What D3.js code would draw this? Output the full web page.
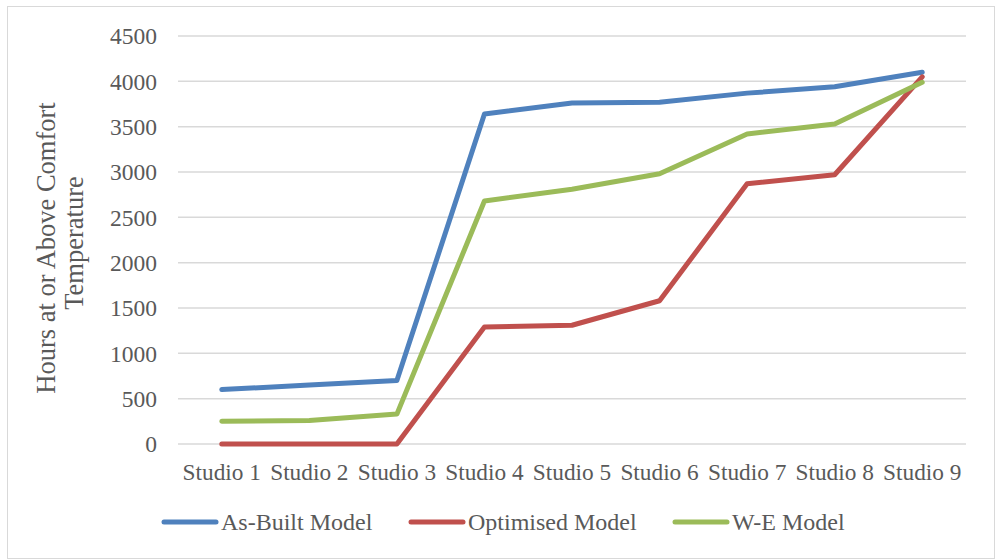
<!DOCTYPE html>
<html>
<head>
<meta charset="utf-8">
<script src="https://cdn.jsdelivr.net/npm/d3@7/dist/d3.min.js"></script>
<style>
  html, body { margin: 0; padding: 0; background: #fff; }
  svg { display: block; }
  text { font-family: "Liberation Serif", "Times New Roman", serif; fill: #595959; }
</style>
</head>
<body>
<svg id="chart" width="996" height="560"></svg>
<script>
// Studios along the category axis
const categories = ["Studio 1", "Studio 2", "Studio 3", "Studio 4", "Studio 5",
                    "Studio 6", "Studio 7", "Studio 8", "Studio 9"];
// Hours at or above comfort temperature per model
const asBuilt   = [600, 650, 700, 3640, 3760, 3770, 3870, 3940, 4100];
const optimised = [0, 0, 0, 1290, 1310, 1580, 2870, 2970, 4050];
const weModel   = [250, 260, 330, 2680, 2810, 2980, 3420, 3530, 3990];
const yTicks    = [0, 500, 1000, 1500, 2000, 2500, 3000, 3500, 4000, 4500];
const seriesNames = ["As-Built Model", "Optimised Model", "W-E Model"];

const series = [
  { name: seriesNames[0], values: asBuilt,   color: "#4F81BD" },
  { name: seriesNames[1], values: optimised, color: "#C0504D" },
  { name: seriesNames[2], values: weModel,   color: "#9BBB59" }
];

const FONT = "Liberation Serif, Times New Roman, serif";
const svg = d3.select("#chart");

// outer chart frame
svg.append("rect")
  .attr("x", 7.5).attr("y", 6.5).attr("width", 987).attr("height", 552)
  .attr("fill", "#fff").attr("stroke", "#D9D9D9").attr("stroke-width", 1);

const plot = { left: 178, right: 966, top: 36, bottom: 444 };

const x = d3.scaleBand().domain(categories).range([plot.left, plot.right]);
const y = d3.scaleLinear().domain([0, 4500]).range([plot.bottom, plot.top]);

// horizontal gridlines
svg.append("g")
  .selectAll("line")
  .data(yTicks)
  .join("line")
  .attr("x1", plot.left).attr("x2", plot.right)
  .attr("y1", d => y(d)).attr("y2", d => y(d))
  .attr("stroke", "#D9D9D9").attr("stroke-width", 1.5);

// value axis labels
const yAxis = d3.axisLeft(y).tickValues(yTicks).tickSize(0).tickPadding(0)
  .tickFormat(d3.format("d"));
const yg = svg.append("g").attr("transform", `translate(${plot.left - 21},0)`).call(yAxis);
yg.select(".domain").remove();
yg.selectAll("text")
  .attr("font-size", 23.5).attr("fill", "#595959")
  .attr("font-family", FONT)
  .attr("dy", "0.33em");

// category axis labels
const xAxis = d3.axisBottom(x).tickSize(0).tickPadding(0);
const xg = svg.append("g").attr("transform", `translate(0,${plot.bottom})`).call(xAxis);
xg.select(".domain").remove();
xg.selectAll("text")
  .attr("font-size", 23.3).attr("fill", "#595959")
  .attr("font-family", FONT)
  .attr("y", 36).attr("dy", 0);

// value axis title, two lines
const titleLines = [
  { text: "Hours at or Above Comfort", x: 55, cy: 248 },
  { text: "Temperature", x: 83, cy: 243 }
];
svg.append("g")
  .selectAll("text")
  .data(titleLines)
  .join("text")
  .attr("transform", d => `translate(${d.x},${d.cy}) rotate(-90)`)
  .attr("text-anchor", "middle")
  .attr("font-size", 26.5)
  .text(d => d.text);

// series lines
const line = d3.line()
  .x((d, i) => x(categories[i]) + x.bandwidth() / 2)
  .y(d => y(d));

svg.append("g")
  .selectAll("path")
  .data(series)
  .join("path")
  .attr("d", d => line(d.values))
  .attr("fill", "none")
  .attr("stroke", d => d.color)
  .attr("stroke-width", 5)
  .attr("stroke-linejoin", "round")
  .attr("stroke-linecap", "round");

// legend
const legendX = [164, 411, 675];
const legend = svg.append("g")
  .selectAll("g")
  .data(series)
  .join("g")
  .attr("transform", (d, i) => `translate(${legendX[i]},522)`);
legend.append("line")
  .attr("x1", 0).attr("x2", 52).attr("y1", 0).attr("y2", 0)
  .attr("stroke", d => d.color).attr("stroke-width", 5).attr("stroke-linecap", "round");
legend.append("text")
  .attr("x", 57).attr("y", 8)
  .attr("font-size", 24)
  .text(d => d.name);
</script>
</body>
</html>
